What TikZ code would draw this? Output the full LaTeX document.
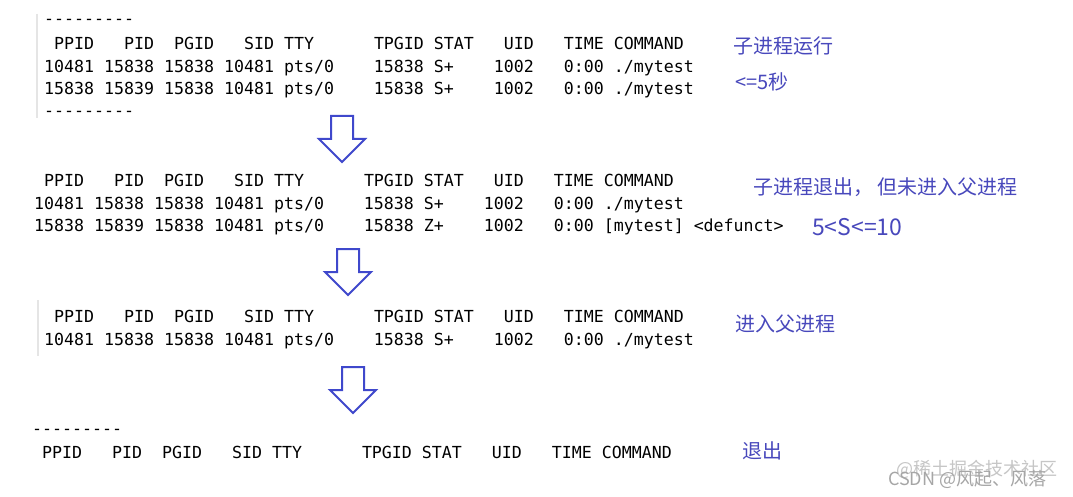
\documentclass[tikz,border=0pt]{standalone}
\usepackage{fontspec}
\setmonofont{DejaVu Sans Mono}
\newfontfamily\cjk{Noto Sans CJK SC}
\usetikzlibrary{positioning}

\definecolor{arrowblue}{RGB}{63,72,204}
\definecolor{noteblue}{RGB}{72,72,188}

\tikzset{
  psrow/.style = {anchor = base west, inner sep = 0pt, font = \ttfamily\fontsize{16.6}{20}\selectfont},
  note/.style = {anchor = west, inner sep = 0pt, text = noteblue, font = \cjk\fontsize{20}{24}\selectfont},
  watermark/.style = {anchor = west, inner sep = 0pt, font = \cjk\fontsize{18}{22}\selectfont},
  downarrow/.style = {draw = arrowblue, line width = 2pt, fill = white, line join = miter},
  cropedge/.style = {draw = gray!20, line width = 1.5pt}
}

\newcommand{\dashline}{-{}-{}-{}-{}-{}-{}-{}-{}-}
\newcommand{\pshead}{~PPID~~~PID~~PGID~~~SID~TTY~~~~~~TPGID~STAT~~~UID~~~TIME~COMMAND}

\begin{document}
\begin{tikzpicture}[x = 1pt, y = -1pt]
        \useasboundingbox (0, 0) rectangle (1073, 497);
        \fill[white] (0, 0) rectangle (1073, 497);

        % first snapshot: child still running
        \draw[cropedge] (37, 14) -- (37, 118);
        \node[psrow] (dashA) at (44, 25) {\dashline};
        \node[psrow] (headA) at (44, 50) {\pshead};
        \node[psrow] (rowAa) at (44, 73) {10481~15838~15838~10481~pts/0~~~~15838~S+~~~~1002~~~0:00~./mytest};
        \node[psrow] (rowAb) at (44, 95) {15838~15839~15838~10481~pts/0~~~~15838~S+~~~~1002~~~0:00~./mytest};
        \node[psrow] (dashB) at (44, 117) {\dashline};

        % second snapshot: zombie
        \node[psrow] (headB) at (34, 186) {\pshead};
        \node[psrow] (rowBa) at (34, 209) {10481~15838~15838~10481~pts/0~~~~15838~S+~~~~1002~~~0:00~./mytest};
        \node[psrow] (rowBb) at (34, 231) {15838~15839~15838~10481~pts/0~~~~15838~Z+~~~~1002~~~0:00~[mytest]~<defunct>};

        % third snapshot: parent only
        \draw[cropedge] (38, 300) -- (38, 356);
        \node[psrow] (headC) at (44, 322) {\pshead};
        \node[psrow] (rowCa) at (44, 345) {10481~15838~15838~10481~pts/0~~~~15838~S+~~~~1002~~~0:00~./mytest};

        % last snapshot: nothing left
        \node[psrow] (dashC) at (32, 434) {\dashline};
        \node[psrow] (headD) at (32, 458) {\pshead};

        \foreach \x/\y in {342/116, 348/249, 353/367}
          \draw[downarrow] (\x - 11, \y) -- (\x + 11, \y) -- (\x + 11, \y + 23) -- (\x + 23, \y + 23)
            -- (\x, \y + 46) -- (\x - 23, \y + 23) -- (\x - 11, \y + 23) -- cycle;

        \node[note] (noteA) at (733, 46) {子进程运行};
        \node[note] (noteB) at (735, 82) {<=5秒};
        \node[note] (noteC) at (753, 187) {子进程退出， 但未进入父进程};
        \node[note, font = \cjk\fontsize{23}{26}\selectfont] (noteD) at (812, 227) {5<S<=10};
        \node[note] (noteE) at (735, 324) {进入父进程};
        \node[note] (noteF) at (742, 451) {退出};

        \node[watermark, text = gray!45] (wmA) at (896, 469) {@稀土掘金技术社区};
        \node[watermark, text = gray!70] (wmB) at (888, 479) {CSDN @风起、风落};
\end{tikzpicture}
\end{document}
